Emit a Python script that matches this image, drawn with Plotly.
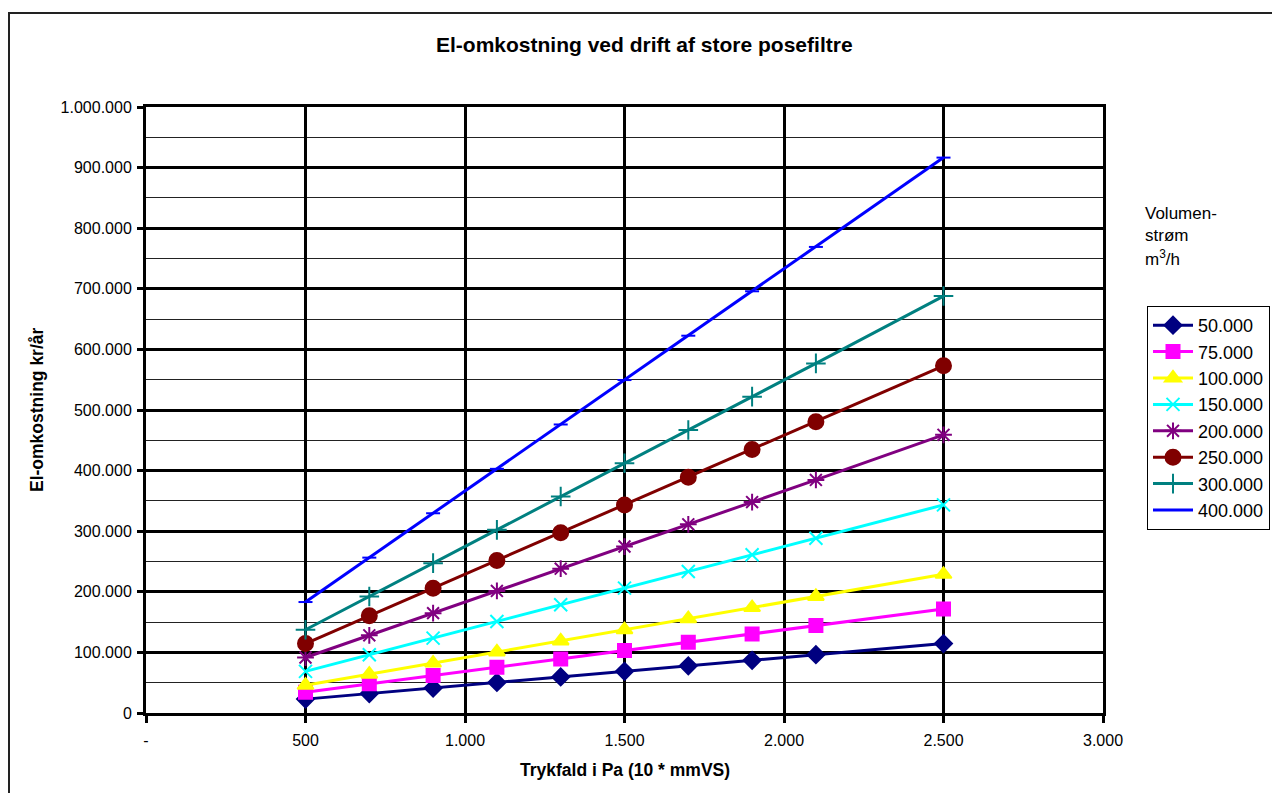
import plotly.graph_objects as go

# ---- data ----
pressure = [500, 700, 900, 1100, 1300, 1500, 1700, 1900, 2100, 2500]
series_names = ["50.000", "75.000", "100.000", "150.000", "200.000", "250.000", "300.000", "400.000"]
v50 = [22900, 32100, 41200, 50400, 59500, 68700, 77900, 87000, 96200, 114500]
v75 = [34300, 48100, 61800, 75600, 89300, 103000, 116800, 130500, 144300, 171700]
v100 = [45800, 64100, 82400, 100700, 119000, 137400, 155700, 174000, 192300, 228900]
v150 = [68700, 96200, 123600, 151100, 178600, 206000, 233500, 261000, 288400, 343400]
v200 = [91600, 128200, 164800, 201500, 238100, 274700, 311400, 348000, 384600, 459000]
v250 = [114500, 160300, 206000, 251800, 297600, 343400, 389200, 435000, 480800, 573000]
v300 = [137400, 192300, 247300, 302200, 357200, 412100, 467000, 522000, 576900, 688000]
v400 = [183100, 256400, 329600, 402900, 476100, 549400, 622600, 695900, 769100, 916500]
x_tickvals = [0, 500, 1000, 1500, 2000, 2500, 3000]
x_ticktext = ["-", "500", "1.000", "1.500", "2.000", "2.500", "3.000"]
y_tickvals = [0, 100000, 200000, 300000, 400000, 500000, 600000, 700000, 800000, 900000, 1000000]
y_ticktext = ["0", "100.000", "200.000", "300.000", "400.000", "500.000", "600.000",
              "700.000", "800.000", "900.000", "1.000.000"]

values = [v50, v75, v100, v150, v200, v250, v300, v400]
colors = ["#000080", "#FF00FF", "#FFFF00", "#00FFFF", "#800080", "#800000", "#008080", "#0000FF"]
symbols = ["diamond", "square", "triangle-up", "x-thin-open", "asterisk-open", "circle", "cross-thin-open", "line-ew-open"]
sizes = [13, 13, 14, 13, 14, 15, 14, 10]

FONT = "Arial, Liberation Sans, sans-serif"

fig = go.Figure()
for name, vals, c, s, sz in zip(series_names, values, colors, symbols, sizes):
    fig.add_trace(go.Scatter(
        x=pressure, y=vals, name=name, mode="lines+markers",
        line=dict(color=c, width=3),
        marker=dict(symbol=s, size=sz, color=c, line=dict(color=c, width=2)),
    ))

L, R, T, B = 146, 169, 107, 80
W, H = 1272, 793
pw, ph = W - L - R, H - T - B

def px(x):
    return (x - L) / pw

def py(y):
    return (H - B - y) / ph

fig.update_layout(
    width=W, height=H,
    margin=dict(l=L, r=R, t=T, b=B, pad=0, autoexpand=False),
    paper_bgcolor="white", plot_bgcolor="white",
    font=dict(family=FONT, size=16, color="black"),
    showlegend=True,
    legend=dict(
        x=px(1147), y=py(306), xanchor="left", yanchor="top",
        bordercolor="black", borderwidth=1, bgcolor="white",
        font=dict(family=FONT, size=18, color="black"),
        itemwidth=40, tracegroupgap=0,
    ),
    xaxis=dict(
        range=[0, 3000], tickvals=x_tickvals, ticktext=x_ticktext,
        showgrid=True, gridcolor="black", gridwidth=3,
        showline=True, linecolor="black", linewidth=3, mirror=True,
        ticks="outside", ticklen=7, tickwidth=3, tickcolor="black",
        tickfont=dict(family=FONT, size=16), ticklabelstandoff=4,
        zeroline=False,
    ),
    yaxis=dict(
        range=[0, 1000000], tickvals=y_tickvals, ticktext=y_ticktext,
        showgrid=True, gridcolor="black", gridwidth=3,
        showline=True, linecolor="black", linewidth=3, mirror=True,
        ticks="outside", ticklen=6, tickwidth=3, tickcolor="black",
        tickfont=dict(family=FONT, size=16), ticklabelstandoff=2,
        zeroline=False,
        minor=dict(dtick=50000, tick0=0, showgrid=True, gridcolor="#222222", gridwidth=1, ticks=""),
    ),
    annotations=[
        dict(text="<b>El-omkostning ved drift af store posefiltre</b>", xref="paper", yref="paper",
             x=px(644), y=py(45), xanchor="center", yanchor="middle", showarrow=False,
             font=dict(family=FONT, size=21)),
        dict(text="<b>Trykfald i Pa (10 * mmVS)</b>", xref="paper", yref="paper",
             x=px(625), y=py(770), xanchor="center", yanchor="middle", showarrow=False,
             font=dict(family=FONT, size=17.5)),
        dict(text="<b>El-omkostning kr/år</b>", xref="paper", yref="paper",
             x=px(37), y=py(410), xanchor="center", yanchor="middle", showarrow=False,
             textangle=-90, font=dict(family=FONT, size=17.5)),
        dict(text="Volumen-", xref="paper", yref="paper", x=px(1143), y=py(213),
             xanchor="left", yanchor="middle", showarrow=False, font=dict(family=FONT, size=17)),
        dict(text="strøm", xref="paper", yref="paper", x=px(1143), y=py(236),
             xanchor="left", yanchor="middle", showarrow=False, font=dict(family=FONT, size=17)),
        dict(text="m<sup>3</sup>/h", xref="paper", yref="paper", x=px(1143), y=py(258),
             xanchor="left", yanchor="middle", showarrow=False, font=dict(family=FONT, size=17)),
    ],
    shapes=[
        dict(type="rect", xref="paper", yref="paper",
             x0=px(9), x1=px(1300), y0=py(820), y1=py(13),
             line=dict(color="#222222", width=2), layer="below"),
    ],
)

fig.write_html("out.html")
